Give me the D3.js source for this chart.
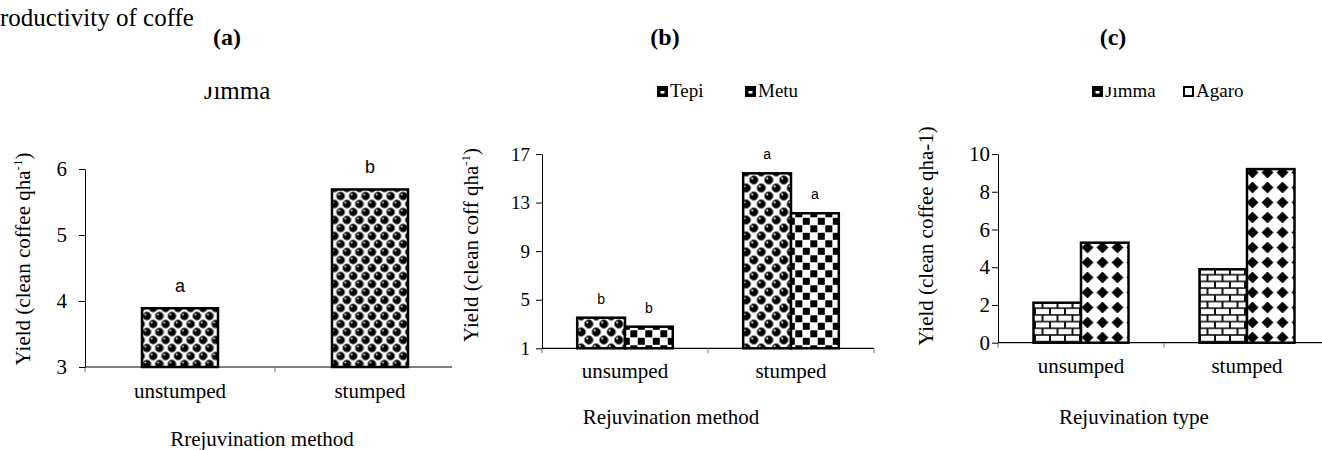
<!DOCTYPE html>
<html>
<head>
<meta charset="utf-8">
<script src="https://cdn.jsdelivr.net/npm/d3@7"></script>
<style>
  body { margin: 0; background: #fff; }
  svg text { fill: #000; font-family: "Liberation Serif", "Times New Roman", serif; }
  svg text.sig { font-family: "Liberation Sans", Arial, sans-serif; }
</style>
</head>
<body>
<svg id="chart" width="1322" height="450"></svg>
<script>
// data
var catsA = ["unstumped", "stumped"];
var yieldA = [3.89, 5.69];
var lettersA = ["a", "b"];
var ticksA = [3, 4, 5, 6];

var catsB = ["unsumped", "stumped"];
var seriesB = ["Tepi", "Metu"];
var tepi = [3.52, 15.41];
var metu = [2.78, 12.12];
var lettersTepi = ["b", "a"];
var lettersMetu = ["b", "a"];
var ticksB = [1, 5, 9, 13, 17];

var catsC = ["unsumped", "stumped"];
var seriesC = ["Jimma", "Agaro"];
var jimma = [2.12, 3.89];
var agaro = [5.30, 9.20];
var ticksC = [0, 2, 4, 6, 8, 10];

var svg = d3.select("#chart");
var defs = svg.append("defs");

//Patterns
function ballPattern(id, w, h, r) {
  var p = defs.append("pattern").attr("id", id)
    .attr("patternUnits", "userSpaceOnUse")
    .attr("width", w).attr("height", h);
  p.append("rect").attr("width", w).attr("height", h).attr("fill", "#fff");
  // faint grey checks between the balls
  p.append("rect").attr("x", w / 2 - 1.5).attr("y", h / 4 - 1.5).attr("width", 3).attr("height", 3).attr("fill", "#bbb");
  p.append("rect").attr("x", -1.5).attr("y", 3 * h / 4 - 1.5).attr("width", 3).attr("height", 3).attr("fill", "#bbb");
  var pts = [[w / 4, h / 4], [3 * w / 4, 3 * h / 4], [w / 4 + w, h / 4], [-w / 4, 3 * h / 4],
             [w / 4, h / 4 + h], [3 * w / 4, 3 * h / 4 - h]];
  pts.forEach(function(c) {
    p.append("circle").attr("cx", c[0]).attr("cy", c[1]).attr("r", r)
      .attr("fill", "#000").attr("stroke", "#888").attr("stroke-width", 0.9);
    p.append("circle").attr("cx", c[0] - r * 0.35).attr("cy", c[1] - r * 0.35).attr("r", r * 0.25)
      .attr("fill", "#ccc");
  });
}
ballPattern("ballsA", 12.5, 16, 4.2);
ballPattern("ballsB", 15, 16, 4.4);

var chk = defs.append("pattern").attr("id", "checker")
  .attr("patternUnits", "userSpaceOnUse").attr("width", 15).attr("height", 15);
chk.append("rect").attr("width", 15).attr("height", 15).attr("fill", "#fff");
chk.append("rect").attr("x", 0.3).attr("y", 0.3).attr("width", 7).attr("height", 7).attr("fill", "#000");
chk.append("rect").attr("x", 7.8).attr("y", 7.8).attr("width", 7).attr("height", 7).attr("fill", "#000");

var brick = defs.append("pattern").attr("id", "brick")
  .attr("patternUnits", "userSpaceOnUse").attr("width", 15).attr("height", 13.4);
brick.append("rect").attr("width", 15).attr("height", 13.4).attr("fill", "#111");
[[1, 0.8], [-6.5, 7.5], [8.5, 7.5]].forEach(function(b) {
  brick.append("rect").attr("x", b[0]).attr("y", b[1]).attr("width", 13).attr("height", 5.1).attr("fill", "#fff");
});

var dia = defs.append("pattern").attr("id", "diamond")
  .attr("patternUnits", "userSpaceOnUse").attr("width", 15).attr("height", 15);
dia.append("rect").attr("width", 15).attr("height", 15).attr("fill", "#fff");
dia.append("path").attr("d", "M7.5,2 L13,7.5 L7.5,13 L2,7.5 Z").attr("fill", "#000")
  .attr("stroke", "#000").attr("stroke-width", 0.8).attr("stroke-linejoin", "round");

// clips
defs.append("clipPath").attr("id", "cutTop").append("rect")
  .attr("x", 0).attr("y", 87).attr("width", 1322).attr("height", 40);
defs.append("clipPath").attr("id", "cutTopL").append("rect")
  .attr("x", -20).attr("y", 0).attr("width", 200).attr("height", 40);
defs.append("clipPath").attr("id", "clipA").append("rect")
  .attr("x", 0).attr("y", 0).attr("width", 452).attr("height", 450);
defs.append("clipPath").attr("id", "clipTxt").append("rect")
  .attr("x", 0).attr("y", 0).attr("width", 193).attr("height", 60);

// stray line of page text at top left
svg.append("text").attr("x", 0).attr("y", 26)
  .style("font-size", "25px")
  .attr("clip-path", "url(#clipTxt)")
  .text("roductivity of coffee");

//Helpers
function yAxis(g, x0, y, ticks, pad, fs) {
  var ax = g.append("g").attr("transform", "translate(" + x0 + ",0)")
    .call(d3.axisLeft(y).tickValues(ticks).tickFormat(d3.format("d"))
      .tickSize(6).tickSizeOuter(0).tickPadding(pad));
  ax.attr("font-family", null).attr("font-size", null);
  ax.selectAll("text").style("font-size", fs + "px");
  ax.select(".domain").attr("stroke", "#000");
  ax.selectAll(".tick line").attr("stroke", "#000");
}

function xAxis(g, x, y0, cats, labelY) {
  var r = x.range();
  g.append("line").attr("x1", r[0]).attr("x2", r[1]).attr("y1", y0).attr("y2", y0)
    .attr("stroke", "#000").attr("stroke-width", 1.2);
  var bounds = cats.map(function(c) { return x(c); }).concat([r[1]]);
  g.selectAll(".xt").data(bounds).enter().append("line")
    .attr("x1", function(d) { return d; }).attr("x2", function(d) { return d; })
    .attr("y1", y0).attr("y2", y0 + 5).attr("stroke", "#777");
  g.selectAll(".xl").data(cats).enter().append("text")
    .attr("x", function(d) { return x(d) + x.bandwidth() / 2; })
    .attr("y", labelY).attr("text-anchor", "middle")
    .style("font-size", "21px")
    .text(function(d) { return d; });
}

function yTitle(g, x, y, main, sup, tail) {
  var t = g.append("text").attr("transform", "translate(" + x + "," + y + ") rotate(-90)")
    .attr("text-anchor", "middle").style("font-size", "21px");
  t.append("tspan").text(main);
  if (sup) {
    t.append("tspan").attr("dy", -8).style("font-size", "13px").text(sup);
    t.append("tspan").attr("dy", 8).text(tail);
  }
}

function label(x, y, txt, fs, bold) {
  svg.append("text").attr("x", x).attr("y", y).attr("text-anchor", "middle")
    .style("font-size", fs + "px")
    .style("font-weight", bold ? "bold" : "normal").text(txt);
}

//Panel (a)
var gA = svg.append("g");
var xA = d3.scaleBand().domain(catsA).range([85, 465]);
var yA = d3.scaleLinear().domain([3, 6]).range([367, 169]);
var gAx = gA.append("g").attr("clip-path", "url(#clipA)");
xAxis(gAx, xA, yA(3), catsA, 398);
yAxis(gA, 85, yA, ticksA, 12, 21);
var bwA = xA.bandwidth() * 0.4;
gA.selectAll(".bar").data(catsA).enter().append("rect")
  .attr("x", function(d) { return xA(d) + xA.bandwidth() / 2 - bwA / 2; })
  .attr("y", function(d, i) { return yA(yieldA[i]); })
  .attr("width", bwA)
  .attr("height", function(d, i) { return yA(3) - yA(yieldA[i]); })
  .attr("fill", "url(#ballsA)").attr("stroke", "#000").attr("stroke-width", 2.5);
gA.selectAll(".let").data(catsA).enter().append("text")
  .attr("class", "sig")
  .attr("x", function(d) { return xA(d) + xA.bandwidth() / 2; })
  .attr("y", function(d, i) { return yA(yieldA[i]) - 16; })
  .attr("text-anchor", "middle").style("font-size", "18px")
  .text(function(d, i) { return lettersA[i]; });
yTitle(gA, 30, 259, "Yield (clean coffee qha", "-1", ")");
label(262, 446, "Rrejuvination method", 21);
label(227, 45, "(a)", 24, true);
svg.append("text").attr("x", 237).attr("y", 99).attr("text-anchor", "middle")
  .attr("clip-path", "url(#cutTop)")
  .style("font-size", "25px").text("Jimma");

//Grouped panels (b) and (c)
function grouped(opts) {
  var g = svg.append("g");
  var x = d3.scaleBand().domain(opts.cats).range(opts.xr);
  var y = d3.scaleLinear().domain(opts.yd).range(opts.yr);
  var inner = d3.scaleBand().domain(opts.series).range([0, opts.groupW]);
  xAxis(g, x, y(opts.yd[0]), opts.cats, opts.labelY);
  yAxis(g, opts.xr[0], y, opts.ticks, opts.pad, opts.tickFs);
  opts.series.forEach(function(s, si) {
    var vals = opts.values[si];
    g.selectAll(".b" + si).data(opts.cats).enter().append("rect")
      .attr("x", function(d) { return x(d) + x.bandwidth() / 2 - opts.groupW / 2 + inner(s); })
      .attr("y", function(d, i) { return y(vals[i]); })
      .attr("width", inner.bandwidth())
      .attr("height", function(d, i) { return y(opts.yd[0]) - y(vals[i]); })
      .attr("fill", "url(#" + opts.fills[si] + ")")
      .attr("stroke", "#000").attr("stroke-width", 2.5);
    if (opts.letters) {
      g.selectAll(".l" + si).data(opts.cats).enter().append("text")
        .attr("class", "sig")
        .attr("x", function(d) { return x(d) + x.bandwidth() / 2 - opts.groupW / 2 + inner(s) + inner.bandwidth() / 2; })
        .attr("y", function(d, i) { return y(vals[i]) - 14; })
        .attr("text-anchor", "middle").style("font-size", "14px")
        .text(function(d, i) { return opts.letters[si][i]; });
    }
  });
  // legend
  var lg = g.selectAll(".lg").data(opts.series).enter().append("g")
    .attr("transform", function(d, i) { return "translate(" + opts.legX[i] + ",87)"; });
  lg.append("rect").attr("x", 1).attr("y", 0).attr("width", 9).attr("height", 9)
    .attr("fill", function(d, i) { return opts.legFill[i]; })
    .attr("stroke", "#000").attr("stroke-width", 2);
  lg.append("rect").attr("x", 3.5).attr("y", 4).attr("width", 4).attr("height", 2.5)
    .attr("fill", "#fff");
  lg.append("text").attr("x", 13).attr("y", 10)
    .attr("clip-path", function(d, i) { return opts.legCut[i] ? "url(#cutTopL)" : null; })
    .style("font-size", "19px").text(function(d) { return d; });
  return g;
}

grouped({
  cats: catsB, series: seriesB, values: [tepi, metu], letters: [lettersTepi, lettersMetu],
  xr: [542, 874], yd: [1, 17], yr: [348.3, 154], ticks: ticksB, pad: 6, tickFs: 19,
  groupW: 95.6, fills: ["ballsB", "checker"], labelY: 378,
  legX: [657, 745], legFill: ["#000", "#000"], legCut: [false, false]
});
yTitle(svg, 478, 245, "Yield (clean coff qha", "-1", ")");
label(671, 424, "Rejuvination method", 21);
label(665, 45, "(b)", 24, true);

grouped({
  cats: catsC, series: seriesC, values: [jimma, agaro], letters: null,
  xr: [998, 1330], yd: [0, 10], yr: [342.7, 154], ticks: ticksC, pad: 2, tickFs: 21,
  groupW: 95, fills: ["brick", "diamond"], labelY: 373,
  legX: [1092, 1183], legFill: ["#000", "#fff"], legCut: [true, false]
});
yTitle(svg, 933, 236, "Yield (clean coffee qha-1)", null, "");
label(1134, 424, "Rejuvination type", 21);
label(1113, 45, "(c)", 24, true);
</script>
</body>
</html>
